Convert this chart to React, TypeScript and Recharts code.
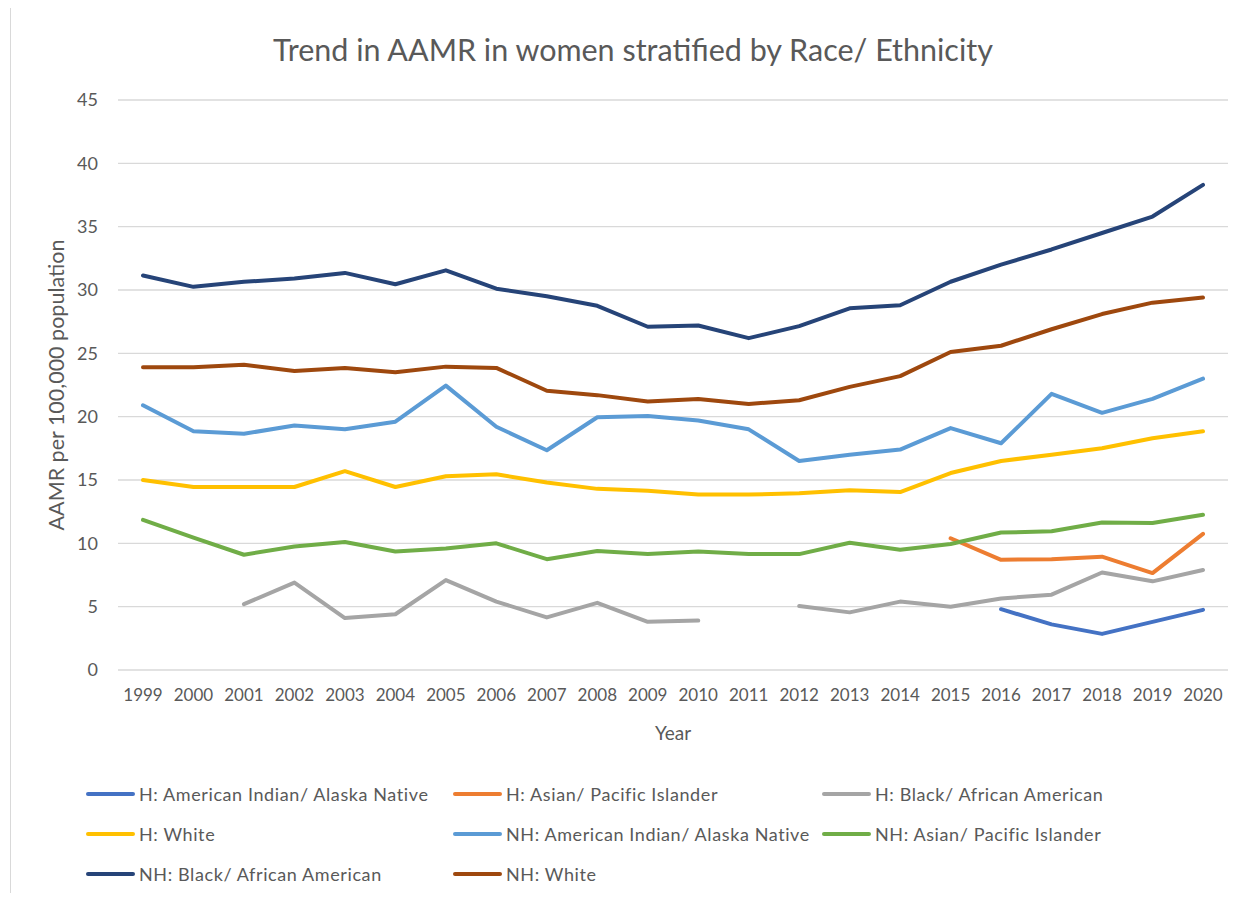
import { LineChart, Line, XAxis, YAxis, CartesianGrid, Label } from 'recharts';

const years = [
  '1999', '2000', '2001', '2002', '2003', '2004', '2005', '2006', '2007', '2008', '2009',
  '2010', '2011', '2012', '2013', '2014', '2015', '2016', '2017', '2018', '2019', '2020',
];

const hAian = [null, null, null, null, null, null, null, null, null, null, null, null, null, null, null, null, null, 4.8, 3.6, 2.85, 3.8, 4.75];
const hApi = [null, null, null, null, null, null, null, null, null, null, null, null, null, null, null, null, 10.4, 8.7, 8.75, 8.95, 7.65, 10.75];
const hBlack = [null, null, 5.2, 6.9, 4.1, 4.4, 7.1, 5.4, 4.15, 5.3, 3.8, 3.9, null, 5.05, 4.55, 5.4, 5.0, 5.65, 5.95, 7.7, 7.0, 7.9];
const hWhite = [15.0, 14.45, 14.45, 14.45, 15.7, 14.45, 15.3, 15.45, 14.8, 14.3, 14.15, 13.85, 13.85, 13.95, 14.2, 14.05, 15.55, 16.5, 17.0, 17.5, 18.3, 18.85];
const nhAian = [20.9, 18.85, 18.65, 19.3, 19.0, 19.6, 22.45, 19.2, 17.35, 19.95, 20.05, 19.7, 19.0, 16.5, 17.0, 17.4, 19.1, 17.9, 21.8, 20.3, 21.4, 23.0];
const nhApi = [11.85, 10.45, 9.1, 9.75, 10.1, 9.35, 9.6, 10.0, 8.75, 9.4, 9.15, 9.35, 9.15, 9.15, 10.05, 9.5, 9.95, 10.85, 10.95, 11.65, 11.6, 12.25];
const nhBlack = [31.15, 30.25, 30.65, 30.9, 31.35, 30.45, 31.55, 30.1, 29.5, 28.75, 27.1, 27.2, 26.2, 27.15, 28.55, 28.8, 30.65, 32.0, 33.2, 34.5, 35.8, 38.3];
const nhWhite = [23.9, 23.9, 24.1, 23.6, 23.85, 23.5, 23.95, 23.85, 22.05, 21.7, 21.2, 21.4, 21.0, 21.3, 22.35, 23.2, 25.1, 25.6, 26.9, 28.1, 29.0, 29.4];

const yTicks = [0, 5, 10, 15, 20, 25, 30, 35, 40, 45];

const series = [
  { key: 'hAian', name: 'H: American Indian/ Alaska Native', color: '#4472C4', values: hAian },
  { key: 'hApi', name: 'H: Asian/ Pacific Islander', color: '#ED7D31', values: hApi },
  { key: 'hBlack', name: 'H: Black/ African American', color: '#A5A5A5', values: hBlack },
  { key: 'hWhite', name: 'H: White', color: '#FFC000', values: hWhite },
  { key: 'nhAian', name: 'NH: American Indian/ Alaska Native', color: '#5B9BD5', values: nhAian },
  { key: 'nhApi', name: 'NH: Asian/ Pacific Islander', color: '#70AD47', values: nhApi },
  { key: 'nhBlack', name: 'NH: Black/ African American', color: '#264478', values: nhBlack },
  { key: 'nhWhite', name: 'NH: White', color: '#9E480E', values: nhWhite },
];

const data = years.map((year, i) => {
  const row: Record<string, string | number | null> = { year };
  series.forEach((s) => {
    row[s.key] = s.values[i];
  });
  return row;
});

const font = 'Lato, "Open Sans", sans-serif';
const textColor = '#595959';

const legendCols = [78, 445, 814];

function App() {
  return (
    <div style={{ position: 'relative', width: 1225, height: 885, fontFamily: font }}>
      <div
        style={{
          position: 'absolute', left: 2, top: -3, width: 1226, height: 889,
          border: '1px solid #d9d9d9', boxSizing: 'border-box',
        }}
      />
      <div
        style={{
          position: 'absolute', left: 0, top: 23, width: 1250, textAlign: 'center',
          fontSize: 30.5, color: textColor,
        }}
      >
        Trend in AAMR in women stratified by Race/ Ethnicity
      </div>
      <LineChart
        width={1225}
        height={885}
        data={data}
        margin={{ top: 92, right: 5, left: 30, bottom: 193 }}
        style={{ position: 'absolute', left: 0, top: 0 }}
      >
        <CartesianGrid vertical={false} stroke="#d9d9d9" strokeWidth={1.3} />
        <XAxis
          dataKey="year"
          axisLine={false}
          tickLine={false}
          tickSize={0}
          tickMargin={19}
          height={30}
          padding={{ left: 25, right: 25 }}
          interval={0}
          tick={{ fill: textColor, fontSize: 17, fontFamily: font }}
        >
          <Label value="Year" position="bottom" offset={27} fill={textColor} fontSize={19} fontFamily={font} />
        </XAxis>
        <YAxis
          domain={[0, 45]}
          ticks={yTicks}
          axisLine={false}
          tickLine={false}
          tickSize={0}
          tickMargin={20}
          width={80}
          tick={{ fill: textColor, fontSize: 18, fontFamily: font }}
        >
          <Label
            value="AAMR per 100,000 population"
            angle={-90}
            position="insideLeft"
            offset={18}
            fill={textColor}
            fontSize={21.5}
            fontFamily={font}
            style={{ textAnchor: 'middle' }}
          />
        </YAxis>
        {series.map((s) => (
          <Line
            key={s.key}
            type="linear"
            dataKey={s.key}
            name={s.name}
            stroke={s.color}
            strokeWidth={4}
            strokeLinecap="round"
            strokeLinejoin="round"
            dot={false}
            activeDot={false}
            connectNulls={false}
            isAnimationActive={false}
          />
        ))}
      </LineChart>
      {series.map((s, i) => (
        <div
          key={s.key}
          style={{
            position: 'absolute',
            left: legendCols[i % 3],
            top: 775 + Math.floor(i / 3) * 40,
            display: 'flex',
            alignItems: 'center',
            fontSize: 18,
            letterSpacing: 0.6,
            color: textColor,
            whiteSpace: 'nowrap',
          }}
        >
          <span
            style={{
              display: 'inline-block', width: 49, height: 4, borderRadius: 2,
              background: s.color, marginRight: 4,
            }}
          />
          {s.name}
        </div>
      ))}
    </div>
  );
}

export default App;
